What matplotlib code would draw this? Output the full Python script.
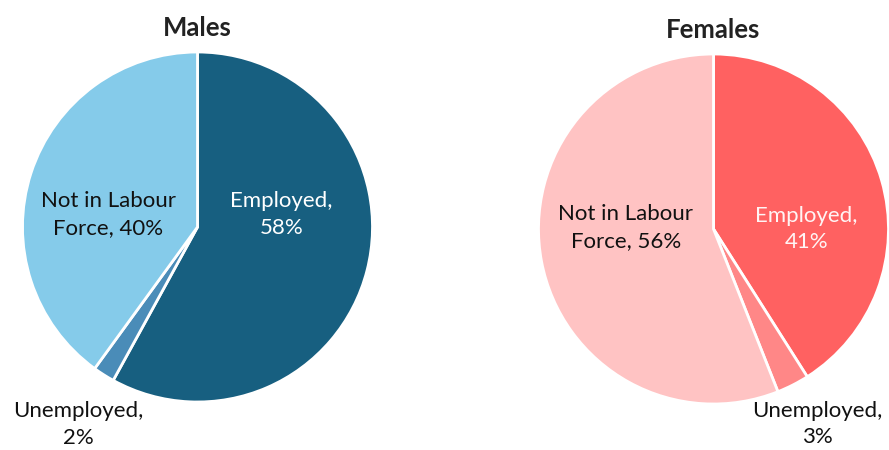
import matplotlib
matplotlib.use("Agg")
import matplotlib.pyplot as plt

plt.rcParams['font.family'] = ['Lato', 'DejaVu Sans']

# labour force status shares, %
categories = ["Employed", "Unemployed", "Not in Labour Force"]
label_text = ["Employed,\n{}%", "Unemployed,\n{}%", "Not in Labour\nForce, {}%"]
males = [58, 2, 40]
females = [41, 3, 56]

male_colors = ["#175F80", "#4A8CB8", "#85CBEA"]
female_colors = ["#FF6161", "#FF8787", "#FFC3C3"]
male_text_colors = ["white", "#111111", "#111111"]
female_text_colors = ["#FFF4F4", "#111111", "#111111"]

# label anchors relative to pie centre, in pie radii
male_label_pos = [(0.48, 0.07), (-0.68, -1.13), (-0.51, 0.07)]
female_label_pos = [(0.53, 0.0), (0.595, -1.115), (-0.50, 0.01)]

W, H = 889, 450
fig = plt.figure(figsize=(W / 100, H / 100), dpi=100)


def draw_pie(cx, cy, r, values, colors, text_colors, label_pos, title):
    ax = fig.add_axes([(cx - r) / W, (H - cy - r) / H, 2 * r / W, 2 * r / H])
    ax.pie(values, colors=colors, startangle=90, counterclock=False,
           radius=1.0, wedgeprops=dict(edgecolor="white", linewidth=2.0))
    ax.set_xlim(-1, 1)
    ax.set_ylim(-1, 1)
    ax.set_aspect("auto")
    ax.axis("off")
    for v, fmt, tc, (dx, dy) in zip(values, label_text, text_colors, label_pos):
        ax.text(dx, dy, fmt.format(v), ha="center", va="center",
                fontsize=16, color=tc, linespacing=1.42)
    ax.text(0, 1.135, title, ha="center", va="center", fontsize=18.5,
            fontweight="bold", color="#222222")


draw_pie(197.5, 227, 175, males, male_colors, male_text_colors,
         male_label_pos, "Males")
draw_pie(713.5, 229, 175, females, female_colors, female_text_colors,
         female_label_pos, "Females")

fig.savefig("out.png", dpi=100)
